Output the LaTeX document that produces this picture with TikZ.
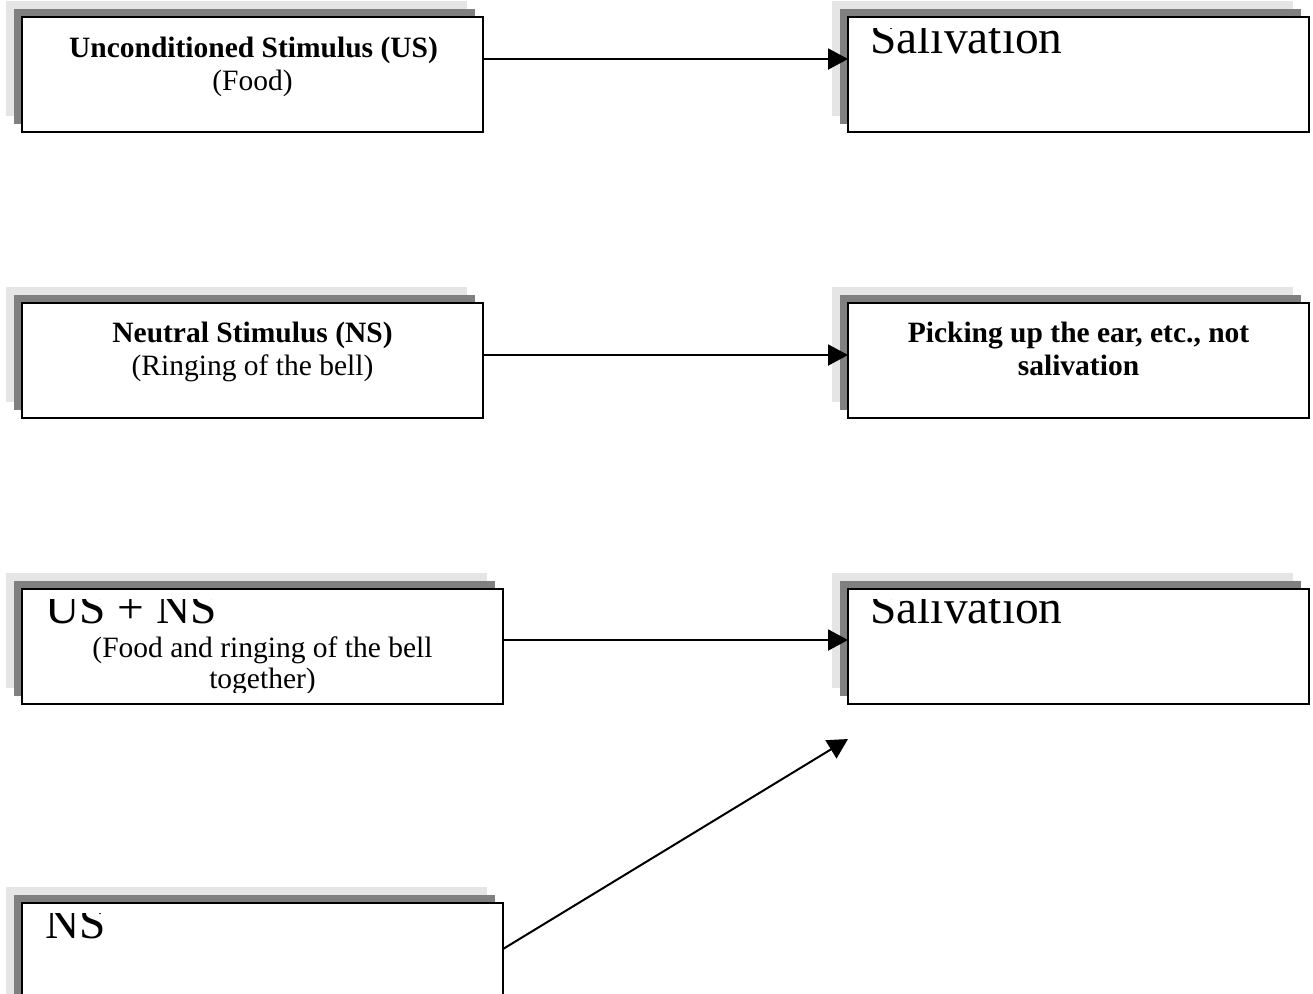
\documentclass[tikz,border=0pt]{standalone}
\usepackage{fontspec}
\setmainfont{Liberation Serif}
\usetikzlibrary{arrows.meta}
\definecolor{shlight}{HTML}{E5E5E5}
\definecolor{shdark}{HTML}{808080}
\tikzset{
  box/.style={draw=black, line width=1pt, fill=white, inner sep=0pt, outer sep=0pt, anchor=north west},
  txt/.style={inner sep=0pt, font=\fontsize{14.75pt}{16.5pt}\selectfont},
  bigtxt/.style={inner sep=0pt, font=\fontsize{23.7pt}{26pt}\selectfont},
  arr/.style={line width=1pt, -{Triangle[length=10pt,width=10.5pt]}}
}
\newcommand\shbox[5]{% name, x, y, w, h (px)
  \fill[shlight] (#2-16,#3-16) rectangle ++(#4,#5);
  \fill[shdark] (#2-8,#3-8) rectangle ++(#4,#5);
  \node[box, minimum width=#4*0.5pt, minimum height=#5*0.5pt] (#1) at (#2,#3) {};
}
\begin{document}
\begin{tikzpicture}[x=0.5pt, y=-0.5pt]
\useasboundingbox (0,0) rectangle (1313,993);
\clip (0,0) rectangle (1313,993);

% boxes
\shbox{b1}{22}{17}{461}{115}
\shbox{b2}{848}{17}{461}{115}
\shbox{b3}{22}{303}{461}{115}
\shbox{b4}{848}{303}{461}{115}
\shbox{b5}{22}{589}{481}{115}
\shbox{b6}{848}{589}{461}{115}
\shbox{b7}{22}{903}{481}{115}

% texts
\node[txt, anchor=base] (t1a) at (253.5,57) {\bfseries Unconditioned Stimulus (US)};
\node[txt, anchor=base] (t1b) at (252.5,90) {(Food)};
\node[txt, anchor=base] (t3a) at (252.5,342) {\bfseries Neutral Stimulus (NS)};
\node[txt, anchor=base] (t3b) at (252.5,375) {(Ringing of the bell)};
\node[txt, anchor=base] (t4a) at (1078.5,342) {\bfseries Picking up the ear, etc., not};
\node[txt, anchor=base] (t4b) at (1078.5,375) {\bfseries salivation};

\begin{scope}
  \clip (848,28) rectangle (1309,132);
  \node[bigtxt, anchor=base west] (t2) at (870,53) {Salivation};
\end{scope}
\begin{scope}
  \clip (848,599) rectangle (1309,704);
  \node[bigtxt, anchor=base west] (t6) at (870,623) {Salivation};
\end{scope}
\begin{scope}
  \clip (22,599) rectangle (503,692);
  \node[bigtxt, anchor=base west] (t5a) at (45,623) {US + NS};
  \node[txt, anchor=base] (t5b) at (262.5,657) {(Food and ringing of the bell};
  \node[txt, anchor=base] (t5c) at (262.5,688) {together)};
\end{scope}
\begin{scope}
  \clip (22,913) rectangle (503,993);
  \node[bigtxt, anchor=base west] (t7) at (45,938) {NS};
\end{scope}

% connectors
\coordinate (nsend) at (848,739);
\draw[arr] ([yshift=-21pt]b1.north east) -- ([yshift=-21pt]b2.north west);
\draw[arr] ([yshift=-26pt]b3.north east) -- ([yshift=-26pt]b4.north west);
\draw[arr] ([yshift=-25.5pt]b5.north east) -- ([yshift=-25.5pt]b6.north west);
\draw[arr] ([yshift=-23pt]b7.north east) -- (nsend);
\end{tikzpicture}
\end{document}
